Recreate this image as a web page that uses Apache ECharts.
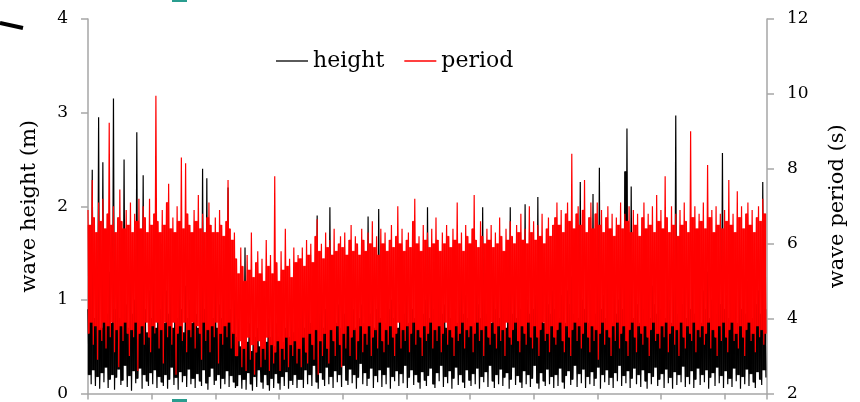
<!DOCTYPE html>
<html>
<head>
<meta charset="utf-8">
<script src="https://cdn.jsdelivr.net/npm/echarts@6/dist/echarts.min.js"></script>
<style>html,body{margin:0;padding:0;background:#fff;}#c{width:860px;height:402px;}</style>
</head>
<body>
<div id="c"></div>
<script>
// wave height (m): alternating local peaks and troughs left to right
const heightValues = [
0.9,0.2, 1.2,0.1, 2.39,0.25, 0.8,0.08, 1.1,0.18, 2.95,0.05, 0.7,0.22, 2.47,0.12, 1.0,0.28, 0.85,0.06,
1.3,0.15, 0.75,0.2, 3.15,0.04, 0.9,0.17, 1.1,0.26, 0.8,0.09, 1.4,0.14, 2.5,0.3, 0.95,0.07, 0.7,0.19,
1.2,0.03, 0.85,0.24, 1.0,0.11, 2.79,0.16, 0.75,0.27, 1.5,0.05, 2.33,0.2, 0.9,0.13, 0.65,0.08, 1.1,0.22,
0.8,0.1, 1.3,0.25, 0.7,0.06, 1.0,0.18, 0.9,0.12, 1.6,0.08, 0.75,0.2, 1.1,0.05, 0.85,0.15, 1.25,0.28,
0.7,0.09, 1.0,0.17, 0.8,0.04, 1.35,0.23, 0.9,0.12, 0.65,0.19, 1.15,0.07, 0.8,0.26, 1.0,0.1, 0.75,0.16,
1.2,0.06, 0.85,0.21, 0.7,0.13, 1.05,0.08, 2.4,0.25, 0.9,0.11, 2.3,0.04, 0.75,0.18, 1.1,0.27, 0.8,0.09,
1.3,0.14, 0.7,0.2, 0.95,0.05, 0.8,0.16, 1.15,0.1, 0.75,0.24, 2.2,0.07, 0.9,0.19, 0.65,0.12, 1.0,0.06,
0.6,0.08, 0.8,0.2, 0.5,0.05, 0.7,0.15, 1.56,0.04, 0.55,0.22, 0.75,0.1, 0.45,0.03, 0.9,0.18, 0.6,0.07,
0.7,0.25, 0.5,0.12, 1.1,0.05, 0.65,0.2, 0.55,0.09, 0.8,0.03, 0.6,0.16, 0.9,0.06, 0.5,0.21, 0.75,0.11,
0.6,0.04, 0.85,0.18, 0.55,0.08, 0.7,0.23, 1.0,0.05, 0.6,0.14, 0.8,0.09, 0.65,0.2, 0.9,0.06, 0.7,0.15,
0.8,0.15, 1.0,0.06, 0.7,0.25, 0.9,0.1, 1.2,0.2, 0.75,0.08, 0.95,0.3, 0.8,0.12, 1.9,0.05, 0.85,0.22,
1.1,0.15, 0.7,0.08, 0.9,0.28, 1.05,0.1, 1.99,0.18, 0.8,0.06, 1.15,0.24, 0.75,0.12, 0.95,0.2, 0.7,0.07,
1.2,0.3, 0.85,0.14, 1.0,0.09, 0.75,0.26, 1.3,0.11, 0.9,0.2, 0.7,0.05, 1.1,0.17, 0.8,0.32, 0.95,0.1,
0.75,0.22, 1.05,0.08, 1.89,0.16, 0.85,0.27, 1.15,0.06, 0.7,0.19, 0.9,0.12, 1.97,0.25, 0.8,0.07, 1.1,0.2,
0.75,0.1, 1.25,0.28, 0.9,0.05, 1.0,0.18, 0.8,0.13, 1.35,0.24, 0.7,0.08, 0.95,0.21, 1.15,0.11, 0.85,0.3,
1.05,0.06, 0.75,0.17, 1.2,0.25, 0.9,0.09, 0.8,0.2, 1.1,0.12, 0.7,0.05, 1.3,0.23, 0.85,0.14, 1.0,0.08,
1.99,0.19, 0.8,0.27, 1.15,0.1, 0.9,0.06, 0.75,0.22, 1.05,0.13, 1.25,0.3, 0.85,0.07, 0.95,0.18, 0.7,0.11,
1.1,0.24, 0.8,0.05, 1.2,0.16, 0.9,0.28, 0.75,0.09, 1.0,0.2, 1.35,0.12, 0.85,0.06, 1.05,0.25, 0.8,0.14,
1.15,0.08, 0.9,0.21, 0.75,0.1, 1.25,0.27, 0.95,0.05, 0.8,0.18, 1.99,0.12, 1.1,0.23, 0.85,0.07, 1.0,0.3,
0.75,0.13, 1.2,0.06, 0.9,0.2, 1.05,0.1, 0.8,0.26, 1.3,0.08, 0.95,0.17, 0.7,0.22, 1.15,0.05, 1.99,0.15,
0.85,0.28, 1.1,0.09, 0.8,0.19, 1.2,0.12, 0.9,0.06, 0.75,0.24, 2.02,0.1, 1.0,0.2, 0.85,0.07, 1.25,0.16,
0.9,0.3, 1.05,0.11, 2.1,0.05, 0.8,0.22, 1.15,0.13, 0.75,0.08, 1.3,0.26, 0.95,0.1, 0.85,0.18, 1.1,0.06,
0.9,0.2, 1.2,0.08, 0.8,0.27, 1.05,0.12, 1.35,0.05, 0.75,0.19, 1.1,0.24, 0.95,0.09, 1.25,0.15, 0.85,0.3,
1.15,0.07, 0.8,0.21, 2.26,0.11, 1.0,0.26, 0.9,0.06, 1.3,0.18, 0.75,0.1, 1.1,0.23, 2.13,0.08, 0.85,0.16,
1.2,0.28, 2.41,0.05, 0.9,0.2, 1.05,0.12, 0.8,0.25, 1.4,0.09, 0.95,0.17, 0.75,0.06, 1.15,0.22, 0.85,0.13,
1.0,0.3, 1.25,0.08, 0.9,0.19, 2.37,0.11, 2.83,0.24, 1.1,0.06, 2.21,0.16, 0.8,0.27, 1.3,0.1, 0.95,0.2,
0.75,0.07, 1.2,0.25, 0.9,0.13, 1.05,0.05, 1.35,0.22, 0.8,0.1, 1.15,0.18, 0.95,0.28, 0.85,0.08, 1.25,0.15,
0.9,0.21, 1.1,0.06, 0.8,0.26, 1.3,0.11, 1.0,0.17, 0.75,0.05, 1.2,0.23, 2.97,0.09, 0.85,0.2, 1.05,0.12,
0.95,0.29, 1.25,0.07, 0.8,0.18, 1.15,0.1, 0.9,0.24, 1.4,0.06, 0.85,0.15, 1.05,0.27, 1.2,0.09, 0.75,0.2,
1.1,0.12, 0.9,0.25, 1.3,0.05, 0.8,0.17, 1.0,0.22, 1.2,0.08, 0.85,0.28, 1.15,0.11, 0.95,0.19, 2.57,0.06,
0.9,0.24, 1.05,0.1, 0.8,0.16, 1.25,0.07, 0.95,0.27, 1.1,0.13, 0.75,0.2, 1.35,0.05, 0.9,0.18, 1.15,0.1,
0.85,0.26, 1.2,0.08, 1.0,0.21, 0.8,0.12, 1.3,0.06, 0.95,0.23, 1.1,0.15, 0.85,0.09, 2.26,0.25, 0.9,0.17
];
// wave period (s): alternating local peaks and troughs left to right
const periodValues = [
6.9,3.6, 6.5,3.9, 7.7,3.3, 6.7,3.8, 6.3,2.9, 7.1,3.7, 6.6,3.4, 7.2,3.9, 6.4,3.2, 6.8,3.8,
9.23,3.5, 6.5,3.9, 7.0,3.1, 6.3,3.7, 6.7,2.7, 7.45,3.8, 6.6,3.4, 6.4,3.9, 6.9,3.6, 6.5,3.0,
7.1,3.7, 6.3,3.5, 6.8,3.9, 6.6,2.6, 7.2,3.6, 6.4,3.8, 7.0,3.3, 6.7,3.9, 6.3,3.5, 7.2,3.1,
6.5,3.8, 6.8,3.6, 9.95,3.9, 6.6,3.2, 6.3,3.7, 6.9,2.8, 6.5,3.9, 7.1,3.5, 7.6,3.8, 6.4,3.3,
6.7,3.9, 6.3,2.5, 7.0,3.6, 6.6,3.8, 8.3,3.4, 6.4,3.9, 8.15,3.1, 6.8,3.7, 6.5,3.5, 6.3,3.9,
6.9,3.2, 6.6,3.8, 7.3,3.6, 6.4,2.9, 6.8,3.9, 6.3,3.4, 6.7,3.7, 7.1,3.1, 6.5,3.8, 6.3,3.5,
6.7,3.9, 6.3,2.8, 6.9,3.6, 6.5,3.3, 6.2,3.8, 6.6,3.5, 7.7,3.9, 6.4,3.2, 6.1,3.6, 6.3,3.0,
5.6,3.0, 5.2,3.4, 5.9,2.7, 5.4,3.2, 5.0,2.6, 5.7,3.5, 5.3,2.9, 6.3,3.3, 5.1,2.5, 5.5,3.1,
5.8,3.4, 5.2,2.7, 5.6,3.2, 5.0,2.9, 6.1,3.5, 5.4,2.6, 5.7,3.3, 5.2,2.8, 7.8,3.1, 5.5,3.4,
5.0,2.6, 5.8,3.2, 5.3,2.9, 6.4,3.5, 5.4,2.7, 5.6,3.3, 5.1,3.0, 5.9,3.4, 5.5,2.8, 5.7,3.2,
5.6,2.7, 5.9,3.5, 5.4,3.1, 6.1,2.8, 5.7,3.6, 6.0,3.3, 5.5,2.9, 6.2,3.7, 6.65,2.5, 5.8,3.4,
6.0,3.0, 5.6,3.6, 6.3,3.2, 5.9,2.8, 6.1,3.7, 5.7,3.4, 6.4,3.0, 5.8,3.8, 6.0,3.3, 6.2,2.7,
5.9,3.6, 6.3,3.2, 5.7,3.8, 6.1,3.0, 6.5,3.5, 5.8,3.7, 6.2,2.9, 6.0,3.4, 5.7,3.8, 6.4,3.1,
6.1,3.6, 5.8,3.3, 6.3,3.8, 6.0,3.0, 6.6,3.5, 5.9,3.7, 6.2,3.2, 5.7,3.9, 6.4,3.4, 6.0,3.1,
6.3,3.7, 5.8,3.3, 6.1,3.8, 6.5,3.5, 5.9,3.0, 6.2,3.6, 7.0,3.9, 6.0,3.2, 6.4,3.7, 5.8,3.4,
6.1,3.8, 6.3,3.1, 5.9,3.6, 6.6,3.9, 7.2,3.3, 6.0,3.7, 6.2,3.5, 5.8,3.0, 6.5,3.8, 6.1,3.4,
6.3,3.6, 5.9,3.9, 6.4,3.2, 6.0,3.7, 6.7,3.4, 6.1,3.8, 5.8,3.1, 6.3,3.6, 6.0,3.9, 6.5,3.3,
6.2,3.7, 5.9,3.5, 6.4,3.0, 6.1,3.8, 7.1,3.4, 6.0,3.6, 6.3,3.9, 5.8,3.2, 6.5,3.7, 6.2,3.5,
6.0,3.8, 6.4,3.1, 7.3,3.6, 6.1,3.9, 5.9,3.4, 6.6,3.7, 6.2,3.0, 6.0,3.8, 6.4,3.5, 6.1,3.3,
6.5,3.9, 5.9,3.6, 6.3,3.2, 6.0,3.8, 6.7,3.4, 6.2,3.7, 5.8,3.0, 6.4,3.9, 6.1,3.5, 6.6,3.3,
6.2,3.7, 6.0,3.9, 6.5,3.4, 6.3,3.1, 6.8,3.8, 6.1,3.6, 6.4,3.3, 6.0,3.9, 7.0,3.5, 6.3,3.2,
6.6,3.8, 6.1,3.5, 6.5,3.0, 6.2,3.7, 6.8,3.9, 6.0,3.4, 6.4,3.6, 6.7,3.1, 6.2,3.8, 6.5,3.5,
6.7,3.3, 7.1,3.7, 6.5,3.9, 6.9,3.4, 6.3,3.1, 6.8,3.8, 7.1,3.5, 6.6,3.0, 8.4,3.7, 6.4,3.9,
6.8,3.4, 7.0,3.8, 6.5,3.2, 6.9,3.6, 7.7,3.9, 6.3,3.5, 6.7,3.1, 7.1,3.8, 6.4,3.4, 6.8,3.7,
7.1,2.9, 6.5,3.6, 6.9,3.9, 6.3,3.3, 6.7,3.7, 7.0,3.5, 6.4,3.0, 6.8,3.8, 6.2,3.4, 6.7,3.9,
6.5,3.2, 7.1,3.6, 6.4,3.8, 6.8,3.4, 6.6,3.0, 7.0,3.7, 6.3,3.9, 6.9,3.5, 6.5,3.1, 6.8,3.8,
6.2,3.6, 6.7,3.3, 7.1,3.8, 6.4,3.5, 6.8,3.0, 6.5,3.7, 7.0,3.9, 6.3,3.4, 7.3,3.6, 6.6,3.2,
6.9,3.8, 6.4,3.5, 7.8,3.9, 6.7,3.1, 6.3,3.6, 7.0,3.8, 6.5,3.3, 6.8,3.7, 6.2,3.0, 6.9,3.9,
6.5,3.5, 7.1,3.2, 6.6,3.8, 6.3,3.6, 9.0,3.4, 6.7,3.9, 7.0,3.1, 6.4,3.7, 6.8,3.5, 6.6,3.8,
7.1,3.3, 6.4,3.6, 8.1,3.9, 6.7,3.2, 6.9,3.7, 6.3,3.5, 7.0,3.0, 6.5,3.8, 6.8,3.4, 6.4,3.9,
6.9,3.5, 6.6,3.1, 7.7,3.7, 6.5,3.9, 6.8,3.4, 6.3,3.6, 7.4,3.2, 6.7,3.8, 7.0,3.5, 6.4,3.0,
6.8,3.7, 7.1,3.9, 6.5,3.4, 6.9,3.6, 6.3,3.1, 6.7,3.8, 7.0,3.5, 6.6,3.7, 7.2,3.3, 6.8,3.6
];
const seriesNames = ['height', 'period'];
const leftTicks = [0, 1, 2, 3, 4];
const rightTicks = [2, 4, 6, 8, 10, 12];

const serif = 'DejaVu Serif';
const axisGrey = '#a6a6a6';
const chart = echarts.init(document.getElementById('c'), null, {renderer: 'canvas'});
const toPairs = arr => arr.map((v, i) => [i, v]);
// densely overplotted interior of a trace: between sample j and j+1, the part that the
// neighbouring up- and down-strokes of the line cover (higher adjacent trough to lower adjacent peak)
const coreColumns = v => {
  const out = [];
  const at = (k, fb) => (k >= 0 && k < v.length ? v[k] : fb);
  for (let j = 0; j < v.length - 1; j++) {
    let hi, lo;
    if (v[j] >= v[j + 1]) {
      hi = Math.min(v[j], at(j + 2, v[j]));
      lo = Math.max(v[j + 1], at(j - 1, v[j + 1]));
    } else {
      hi = Math.min(v[j + 1], at(j - 1, v[j + 1]));
      lo = Math.max(v[j], at(j + 2, v[j]));
    }
    out.push([j, lo, hi, j + 1]);
  }
  return out;
};
const columnItem = color => function (params, api) {
  const a = api.coord([api.value(0), api.value(2)]);
  const b = api.coord([api.value(3), api.value(1)]);
  return {
    type: 'rect',
    shape: {x: a[0], y: a[1], width: b[0] - a[0], height: b[1] - a[1]},
    style: {fill: color, stroke: color, lineWidth: 0.4}
  };
};

chart.setOption({
  animation: false,
  backgroundColor: '#ffffff',
  grid: {left: 88, right: 93, top: 19, bottom: 7, containLabel: false},
  legend: {
    left: 276, top: 50, padding: 0,
    data: [{name: seriesNames[0], icon: 'rect'}, {name: seriesNames[1], icon: 'rect'}],
    itemWidth: 32, itemHeight: 1.3, itemGap: 20,
    textStyle: {fontFamily: serif, fontSize: 22, color: '#000'}
  },
  xAxis: {
    type: 'value', min: 0, max: heightValues.length, interval: 60,
    axisLine: {show: true, lineStyle: {color: axisGrey, width: 1.5}},
    axisTick: {show: true, inside: false, length: 6, lineStyle: {color: axisGrey, width: 1.5}},
    axisLabel: {show: false},
    splitLine: {show: false}
  },
  yAxis: [{
    type: 'value', min: leftTicks[0], max: leftTicks[leftTicks.length - 1], interval: 1,
    position: 'left',
    name: 'wave height (m)', nameLocation: 'middle', nameGap: 48, nameRotate: 90,
    nameTextStyle: {fontFamily: serif, fontSize: 21, color: '#000'},
    axisLine: {show: true, lineStyle: {color: axisGrey, width: 1.5}},
    axisTick: {show: true, inside: false, length: 7, lineStyle: {color: axisGrey, width: 1.5}},
    axisLabel: {fontFamily: serif, fontSize: 17, color: '#000', margin: 20},
    splitLine: {show: false}
  }, {
    type: 'value', min: rightTicks[0], max: rightTicks[rightTicks.length - 1], interval: 2,
    position: 'right',
    name: 'wave period (s)', nameLocation: 'middle', nameGap: 60, nameRotate: 90,
    nameTextStyle: {fontFamily: serif, fontSize: 21, color: '#000'},
    axisLine: {show: true, lineStyle: {color: axisGrey, width: 1.5}},
    axisTick: {show: true, inside: false, length: 7, lineStyle: {color: axisGrey, width: 1.5}},
    axisLabel: {fontFamily: serif, fontSize: 17, color: '#000', margin: 20},
    splitLine: {show: false}
  }],
  series: [{
    name: 'heightCore', type: 'custom', yAxisIndex: 0, silent: true,
    data: coreColumns(heightValues), encode: {x: [0, 3], y: [1, 2]},
    renderItem: columnItem('#000000'), z: 1
  }, {
    name: seriesNames[0], type: 'line', yAxisIndex: 0,
    data: toPairs(heightValues), symbol: 'none', showSymbol: false,
    lineStyle: {color: '#000000', width: 1.2}, itemStyle: {color: '#000000'},
    sampling: null, z: 2
  }, {
    name: 'periodCore', type: 'custom', yAxisIndex: 1, silent: true,
    data: coreColumns(periodValues), encode: {x: [0, 3], y: [1, 2]},
    renderItem: columnItem('#ff0000'), z: 3
  }, {
    name: seriesNames[1], type: 'line', yAxisIndex: 1,
    data: toPairs(periodValues), symbol: 'none', showSymbol: false,
    lineStyle: {color: '#ff0000', width: 1.2}, itemStyle: {color: '#ff0000'},
    sampling: null, z: 4
  }],
  graphic: [
    {type: 'line', shape: {x1: 0, y1: 23, x2: 23, y2: 28}, style: {stroke: '#000', lineWidth: 4}},
    {type: 'rect', shape: {x: 172, y: 0, width: 15, height: 2}, style: {fill: '#2a9d8f'}},
    {type: 'rect', shape: {x: 172, y: 399, width: 15, height: 3}, style: {fill: '#2a9d8f'}}
  ]
});
</script>
</body>
</html>
